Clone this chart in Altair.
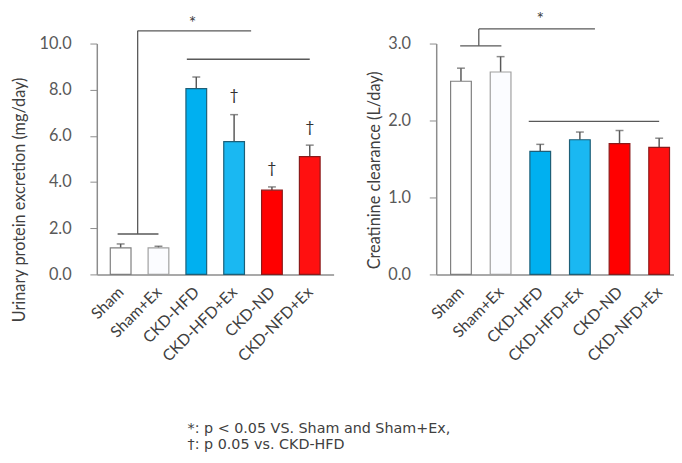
import altair as alt
import pandas as pd

groups = ["Sham", "Sham+Ex", "CKD-HFD", "CKD-HFD+Ex", "CKD-ND", "CKD-NFD+Ex"]
positions = [0.5, 1.5, 2.5, 3.5, 4.5, 5.5]
fills = ["#ffffff", "#fbfcff", "#00b0f0", "#1ab8f2", "#ff0000", "#ff1010"]
strokes = ["#7f7f7f", "#a0a0a0", "#1d5f78", "#1d5f78", "#8b1a1a", "#8b1a1a"]

protein = [1.15, 1.15, 8.05, 5.75, 3.65, 5.10]
protein_err = [0.17, 0.07, 0.50, 1.17, 0.14, 0.50]
protein_dagger = [None, None, None, 7.75, 4.6, 6.4]

clearance = [2.51, 2.63, 1.60, 1.75, 1.70, 1.65]
clearance_err = [0.17, 0.20, 0.09, 0.10, 0.17, 0.12]

# bracket segments (data units): x, x2, y, y2
left_br_x = [0.42, 0.95, 0.95, 3.95, 3.95, 2.25]
left_br_x2 = [1.50, 0.95, 3.95, 3.95, 3.95, 5.50]
left_br_y = [1.75, 1.75, 10.55, 10.55, 9.32, 9.32]
left_br_y2 = [1.75, 10.55, 10.55, 10.55, 9.32, 9.32]
left_star = (2.4, 10.85)

right_br_x = [0.48, 0.95, 0.95, 3.88, 3.88, 2.21]
right_br_x2 = [1.52, 0.95, 3.88, 3.88, 3.88, 5.50]
right_br_y = [2.97, 2.97, 3.19, 3.19, 1.99, 1.99]
right_br_y2 = [2.97, 3.19, 3.19, 3.19, 1.99, 1.99]
right_star = (2.5, 3.30)

note1 = "*: p < 0.05 VS. Sham and Sham+Ex,"
note2 = "\u2020: p 0.05 vs. CKD-HFD"

FONT = "Lato"
TXT = "#595959"
label_expr = "[" + ",".join(f"'{g}'" for g in groups) + "][floor(datum.value)]"


def panel(values, errs, daggers, brx, brx2, bry, bry2, star, ymax, ystep, xmax, width, title, title_x, title_y):
    df = pd.DataFrame({
        "group": groups, "pos": positions, "value": values,
        "top": [v + e for v, e in zip(values, errs)],
        "fill": fills, "stroke": strokes,
    })
    xsc = alt.Scale(domain=[0, xmax], nice=False, zero=False)
    ysc = alt.Scale(domain=[0, ymax], nice=False)
    xax = alt.Axis(values=positions, labelExpr=label_expr, labelAngle=-45, ticks=False,
                   grid=False, title=None, domainColor="#8c8c8c", domainWidth=1.5,
                   labelFont=FONT, labelFontSize=16, labelColor="#404040", labelPadding=15,
                   labelAlign="right", labelBaseline="middle", labelOverlap=False, labelBound=False,
                   labelFlush=False)
    yax = alt.Axis(values=[i * ystep for i in range(6) if i * ystep <= ymax + 1e-9], format=".1f", grid=False,
                   domainColor="#8c8c8c", domainWidth=1.5, tickColor="#8c8c8c", tickSize=7,
                   labelFont=FONT, labelFontSize=16.5, labelColor=TXT, labelPadding=19,
                   title=title, titleFont=FONT, titleFontSize=16.5, titleColor="#404040",
                   titleFontWeight="normal", titleX=title_x, titleY=title_y,
                   titleAngle=270, titleAlign="center", titleBaseline="alphabetic")
    base = alt.Chart(df)
    bars = base.mark_bar(size=21, strokeWidth=1.2).encode(
        x=alt.X("pos:Q", scale=xsc, axis=xax),
        y=alt.Y("value:Q", scale=ysc, axis=yax),
        fill=alt.Fill("fill:N", scale=None),
        stroke=alt.Stroke("stroke:N", scale=None),
    )
    err = base.mark_rule(color="#595959", strokeWidth=1.5).encode(
        x="pos:Q", y="value:Q", y2="top:Q")
    cap = base.mark_tick(color="#595959", thickness=1.5, size=8, orient="horizontal").encode(
        x="pos:Q", y="top:Q")
    layers = [err, cap, bars]
    dd = pd.DataFrame({"pos": positions, "d": daggers}).dropna()
    if len(dd):
        layers.append(alt.Chart(dd).mark_text(text="\u2020", font=FONT, fontSize=16, color="#303030").encode(
            x="pos:Q", y="d:Q"))
    br = pd.DataFrame({"x": brx, "x2": brx2, "y": bry, "y2": bry2})
    layers.append(alt.Chart(br).mark_rule(color="#595959", strokeWidth=1.3).encode(
        x="x:Q", x2="x2:Q", y="y:Q", y2="y2:Q"))
    sd = pd.DataFrame({"x": [star[0]], "y": [star[1]]})
    layers.append(alt.Chart(sd).mark_text(text="*", font=FONT, fontSize=18, color="#404040").encode(
        x="x:Q", y="y:Q"))
    return alt.layer(*layers).properties(width=width, height=234)


left = panel(protein, protein_err, protein_dagger, left_br_x, left_br_x2, left_br_y, left_br_y2,
             left_star, 10, 2, 6, 240, "Urinary protein excretion (mg/day)", -73, 158)
right = panel(clearance, clearance_err, [None] * 6, right_br_x, right_br_x2, right_br_y, right_br_y2,
              right_star, 3, 1, 5.75, 241, "Creatinine clearance (L/day)", -57, 128)

chart = alt.hconcat(left, right, spacing=33).properties(
    title=alt.TitleParams(text=[note1, note2], orient="bottom", anchor="start", dx=178, offset=59,
                          font="DejaVu Sans", fontSize=14.5, color="#404040", fontWeight="normal",
                          lineHeight=16),
    padding={"left": 4, "top": 0, "right": 0, "bottom": 0},
).configure_view(stroke=None)

chart.save("out.html", embed_options={"renderer": "svg", "actions": False})
